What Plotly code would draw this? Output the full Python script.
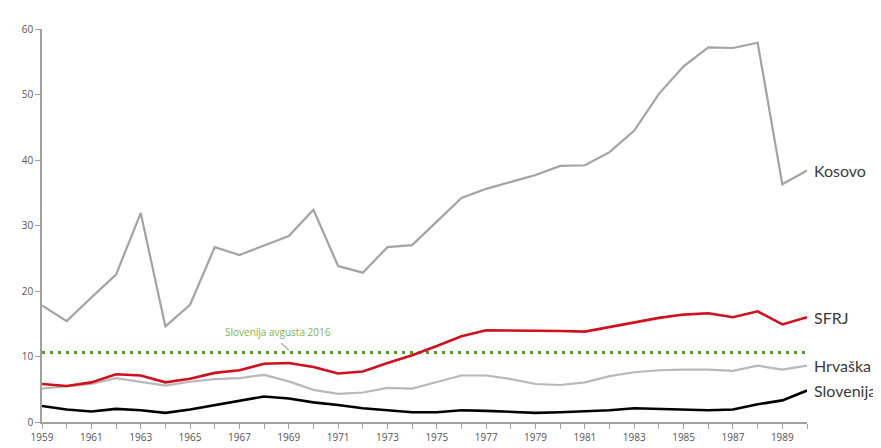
import plotly.graph_objects as go

years = list(range(1959, 1991))

kosovo = [17.8, 15.4, 19.0, 22.5, 31.9, 14.6, 17.9, 26.7, 25.5, 27.0, 28.4, 32.4,
          23.8, 22.8, 26.7, 27.0, 30.6, 34.2, 35.6, 36.7, 37.7, 39.1, 39.2, 41.2,
          44.5, 50.1, 54.3, 57.2, 57.1, 57.9, 36.3, 38.4]
sfrj = [5.8, 5.5, 6.05, 7.3, 7.1, 6.05, 6.6, 7.5, 7.9, 8.9, 9.0, 8.4,
        7.4, 7.7, 9.0, 10.2, 11.6, 13.1, 14.0, 14.0, 14.0, 13.9, 13.8, 14.5,
        15.1, 15.9, 16.4, 16.6, 16.0, 16.9, 14.9, 16.0]
hrvaska = [5.1, 5.5, 5.8, 6.7, 6.15, 5.55, 6.15, 6.55, 6.7, 7.2, 6.2, 4.9,
           4.3, 4.5, 5.2, 5.1, 6.1, 7.1, 7.1, 6.55, 5.8, 5.65, 6.05, 7.0,
           7.6, 7.9, 8.0, 8.0, 7.8, 8.6, 8.0, 8.6]
slovenija = [2.45, 1.9, 1.6, 2.0, 1.8, 1.4, 1.9, 2.6, 3.25, 3.9, 3.6, 3.0,
             2.6, 2.1, 1.8, 1.5, 1.5, 1.8, 1.7, 1.5, 1.4, 1.5, 1.6, 1.8,
             2.1, 2.0, 1.9, 1.8, 1.9, 2.7, 3.3, 4.8]
slo_2016 = 10.6

series = [
    ("Kosovo", kosovo, "#a3a3a3", 2.2),
    ("Hrvaška", hrvaska, "#b8b8b8", 2.2),
    ("SFRJ", sfrj, "#d0101c", 2.6),
    ("Slovenija", slovenija, "#000000", 2.6),
]

fig = go.Figure()

fig.add_trace(go.Scatter(x=[years[0], years[-1]], y=[slo_2016, slo_2016], mode="lines",
                         line=dict(color="#4f9a2a", width=3, dash="3px,5px"),
                         hoverinfo="skip", showlegend=False))

for name, vals, color, w in series:
    fig.add_trace(go.Scatter(x=years, y=vals, mode="lines", name=name,
                             line=dict(color=color, width=w), showlegend=False))
    fig.add_annotation(x=years[-1], y=vals[-1], xref="x", yref="y", text=name,
                       showarrow=False, xanchor="left", xshift=5,
                       font=dict(family="Lato, Noto Sans, sans-serif", size=16, color="#3a3a3a"))

fig.add_annotation(x=1969.0, y=slo_2016 + 0.4, ax=-9, ay=-8, text="",
                   showarrow=True, arrowhead=0, arrowwidth=1.2, arrowcolor="#a8a8a8")
fig.add_annotation(x=1968.55, y=slo_2016 + 3.1, text="Slovenija avgusta 2016",
                   showarrow=False, xanchor="center",
                   font=dict(family="Open Sans, Noto Sans, sans-serif", size=10, color="#7fb24f"))

fig.update_layout(
    width=881, height=448,
    margin=dict(l=34, r=82, t=21, b=20),
    paper_bgcolor="white", plot_bgcolor="white",
    xaxis=dict(range=[1959, 1990], dtick=2, tick0=1959, showgrid=False, zeroline=False,
               showline=True, linecolor="#a0a0a0", linewidth=1.5,
               ticks="outside", ticklen=5, tickcolor="#a0a0a0", tickwidth=1,
               minor=dict(dtick=1, ticks="outside", ticklen=5, tickcolor="#a0a0a0"),
               tickfont=dict(family="Open Sans, Noto Sans, sans-serif", size=10, color="#555555")),
    yaxis=dict(range=[0, 60], dtick=10, showgrid=False, zeroline=False,
               showline=True, linecolor="#a0a0a0", linewidth=1.5,
               ticks="outside", ticklen=5, tickcolor="#a0a0a0", tickwidth=1,
               tickfont=dict(family="Open Sans, Noto Sans, sans-serif", size=10, color="#555555")),
)

fig.write_html("out.html")
